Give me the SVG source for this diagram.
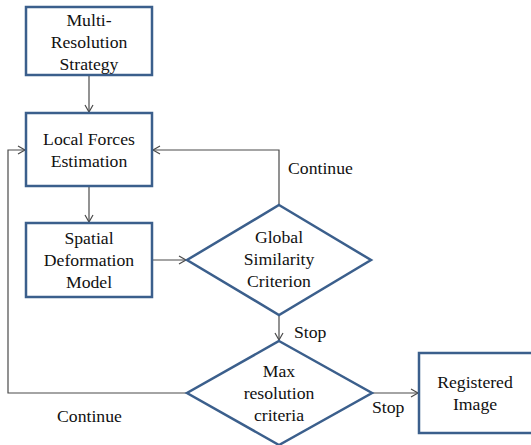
<svg xmlns="http://www.w3.org/2000/svg" width="531" height="445" viewBox="0 0 531 445">
<defs>
<style>
.box{fill:#fff;stroke:#3b5f8c;stroke-width:2.5}
.t{text-anchor:middle}
.c{fill:none;stroke:#4a4a4a;stroke-width:1.2}
</style>
<marker id="arr" markerWidth="10" markerHeight="10" refX="8" refY="5" orient="auto" markerUnits="userSpaceOnUse">
<path d="M1,1 L8,5 L1,9" fill="none" stroke="#4a4a4a" stroke-width="1.2"/>
</marker>
</defs>
<rect width="531" height="445" fill="#fff"/>
<g font-family="Liberation Serif, Times New Roman, DejaVu Serif, serif" font-size="17.7" fill="#111">
<g id="connectors">
<path class="c" d="M89,75 V112" marker-end="url(#arr)"/>
<path class="c" d="M89,186 V222" marker-end="url(#arr)"/>
<path class="c" d="M152,260 H186" marker-end="url(#arr)"/>
<path class="c" d="M279,205 V150 H153" marker-end="url(#arr)"/>
<path class="c" d="M279,315 V340" marker-end="url(#arr)"/>
<path class="c" d="M187,393 H8 V150 H25" marker-end="url(#arr)"/>
<path class="c" d="M372,393 H418" marker-end="url(#arr)"/>
<text x="288" y="174">Continue</text>
<text x="294" y="338">Stop</text>
<text x="57" y="422">Continue</text>
<text x="372" y="413">Stop</text>
</g>
<g id="multires">
<rect class="box" x="26" y="7" width="126" height="68"/>
<text class="t" x="89" y="26">Multi-</text>
<text class="t" x="89" y="48">Resolution</text>
<text class="t" x="89" y="70">Strategy</text>
</g>
<g id="localforces">
<rect class="box" x="26" y="113" width="126" height="73"/>
<text class="t" x="89" y="144.5">Local Forces</text>
<text class="t" x="89" y="166.5">Estimation</text>
</g>
<g id="spatial">
<rect class="box" x="26" y="223" width="126" height="74"/>
<text class="t" x="89" y="244">Spatial</text>
<text class="t" x="89" y="266">Deformation</text>
<text class="t" x="89" y="288">Model</text>
</g>
<g id="global">
<polygon class="box" points="279,205 371,260 279,315 187,260"/>
<text class="t" x="279" y="243">Global</text>
<text class="t" x="279" y="265">Similarity</text>
<text class="t" x="279" y="287">Criterion</text>
</g>
<g id="maxres">
<polygon class="box" points="279,341 372,393 279,445 187,393"/>
<text class="t" x="279" y="377">Max</text>
<text class="t" x="279" y="399">resolution</text>
<text class="t" x="279" y="421">criteria</text>
</g>
<g id="registered">
<rect class="box" x="419" y="353" width="125" height="80"/>
<text class="t" x="475" y="388">Registered</text>
<text class="t" x="475" y="410">Image</text>
</g>
</g>
</svg>
